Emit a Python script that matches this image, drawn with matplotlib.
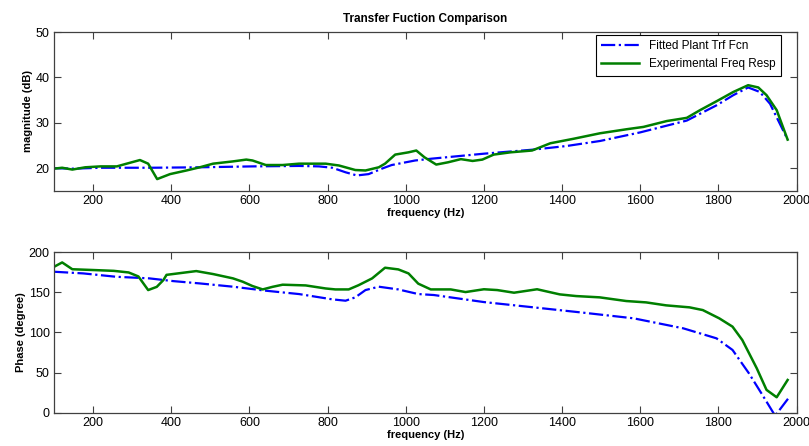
import matplotlib
matplotlib.use("Agg")
import matplotlib.pyplot as plt

plt.rcParams['font.family'] = ['Liberation Sans', 'DejaVu Sans']

# magnitude (dB)
mag_fit_f = [100, 151, 219, 346, 473, 608, 727, 778, 812, 846, 875, 905, 939, 964, 1024,
             1066, 1200, 1327, 1412, 1497, 1600, 1719, 1796, 1838, 1876, 1906, 1932, 1977]
mag_fit = [20.0, 19.9, 20.1, 20.1, 20.2, 20.4, 20.5, 20.4, 20.1, 19.1, 18.4, 18.7, 19.9, 20.7, 21.7,
           22.1, 23.2, 24.1, 24.9, 26.0, 27.9, 30.5, 33.9, 36.1, 37.8, 36.8, 34.2, 26.3]

mag_exp_f = [100, 121, 147, 180, 219, 261, 286, 320, 341, 364, 397, 439, 473, 507, 558, 592, 608,
             642, 685, 727, 795, 829, 871, 897, 931, 947, 973, 1007, 1027, 1048, 1078, 1108, 1141,
             1171, 1196, 1225, 1268, 1323, 1370, 1430, 1497, 1566, 1608, 1668, 1719, 1753, 1796,
             1838, 1876, 1902, 1923, 1949, 1977]
mag_exp = [19.9, 20.1, 19.7, 20.2, 20.4, 20.4, 21.0, 21.8, 21.0, 17.6, 18.7, 19.5, 20.2, 21.0, 21.5,
           21.9, 21.7, 20.7, 20.7, 21.0, 21.0, 20.6, 19.6, 19.5, 20.2, 21.0, 23.0, 23.5, 23.9, 22.4,
           20.8, 21.3, 22.0, 21.6, 21.9, 23.0, 23.5, 23.9, 25.5, 26.5, 27.7, 28.6, 29.1, 30.4, 31.1,
           32.8, 34.8, 36.8, 38.3, 37.8, 36.1, 32.8, 26.3]

# phase (degree)
ph_fit_f = [100, 175, 259, 344, 405, 473, 558, 642, 727, 812, 846, 871, 897, 931, 981, 1032,
            1072, 1200, 1327, 1455, 1583, 1710, 1795, 1836, 1878, 1915, 1945, 1979]
ph_fit = [175.9, 173.8, 169.6, 167.6, 164.2, 161.3, 157.2, 152.2, 148.0, 141.4, 139.7, 143.9, 153.0,
          157.2, 153.8, 148.0, 146.8, 138.0, 131.4, 124.7, 117.7, 105.2, 92.7, 78.2, 49.0, 20.0,
          -4.0, 17.9]

ph_exp_f = [100, 121, 147, 202, 253, 291, 316, 341, 363, 380, 388, 430, 464, 507, 558, 583, 608,
            634, 659, 685, 744, 795, 820, 854, 879, 914, 947, 981, 1007, 1032, 1064, 1115, 1153,
            1200, 1234, 1277, 1336, 1394, 1436, 1496, 1564, 1615, 1666, 1726, 1760, 1802, 1836,
            1861, 1898, 1923, 1949, 1977]
ph_exp = [182.0, 187.5, 179.0, 178.0, 177.0, 175.0, 170.0, 153.0, 157.0, 165.5, 172.0, 174.6, 176.7,
          173.0, 167.6, 163.4, 158.0, 153.8, 157.0, 159.7, 158.8, 155.0, 153.8, 153.8, 159.0, 167.6,
          180.9, 178.8, 173.8, 161.0, 153.8, 153.8, 150.5, 154.0, 153.0, 149.7, 154.0, 147.6, 145.5,
          143.9, 139.3, 137.6, 133.9, 131.4, 128.0, 117.7, 107.3, 90.6, 55.3, 28.3, 19.1, 40.7]

freq_ticks = list(range(200, 2001, 200))

fig = plt.figure(figsize=(8.09, 4.46), dpi=100)
ax1 = fig.add_axes([0.0667, 0.572, 0.918, 0.356])
ax2 = fig.add_axes([0.0667, 0.075, 0.918, 0.359])

blue = '#0000ff'
green = '#007f00'

ax1.plot(mag_fit_f, mag_fit, color=blue, linestyle='-.', linewidth=1.6, label='Fitted Plant Trf Fcn')
ax1.plot(mag_exp_f, mag_exp, color=green, linewidth=1.8, label='Experimental Freq Resp')
ax1.set_xlim(100, 2000)
ax1.set_ylim(15, 50)
ax1.set_yticks([20, 30, 40, 50])
ax1.set_xticks(freq_ticks)
ax1.set_xlabel('frequency (Hz)', fontweight='bold', fontsize=8, labelpad=1)
ax1.set_ylabel('magnitude (dB)', fontweight='bold', fontsize=8, labelpad=2)
ax1.set_title('Transfer Fuction Comparison', fontweight='bold', fontsize=8.5, pad=7)
leg = ax1.legend(loc='upper right', bbox_to_anchor=(0.9785, 0.981), fontsize=8.5,
                 fancybox=False, edgecolor='black', framealpha=1, borderaxespad=0,
                 handlelength=3.2, borderpad=0.45, labelspacing=0.5)
leg.get_frame().set_linewidth(0.8)

ax2.plot(ph_fit_f, ph_fit, color=blue, linestyle='-.', linewidth=1.6)
ax2.plot(ph_exp_f, ph_exp, color=green, linewidth=1.8)
ax2.set_xlim(100, 2000)
ax2.set_ylim(0, 200)
ax2.set_yticks([0, 50, 100, 150, 200])
ax2.set_xticks(freq_ticks)
ax2.set_xlabel('frequency (Hz)', fontweight='bold', fontsize=8, labelpad=1)
ax2.set_ylabel('Phase (degree)', fontweight='bold', fontsize=8, labelpad=2)

for ax in (ax1, ax2):
    ax.tick_params(direction='in', top=True, right=True, labelsize=9, length=5,
                   color='#404040', pad=3)
    for s in ax.spines.values():
        s.set_color('#404040')
        s.set_linewidth(0.9)

fig.savefig('out.png', dpi=100)
